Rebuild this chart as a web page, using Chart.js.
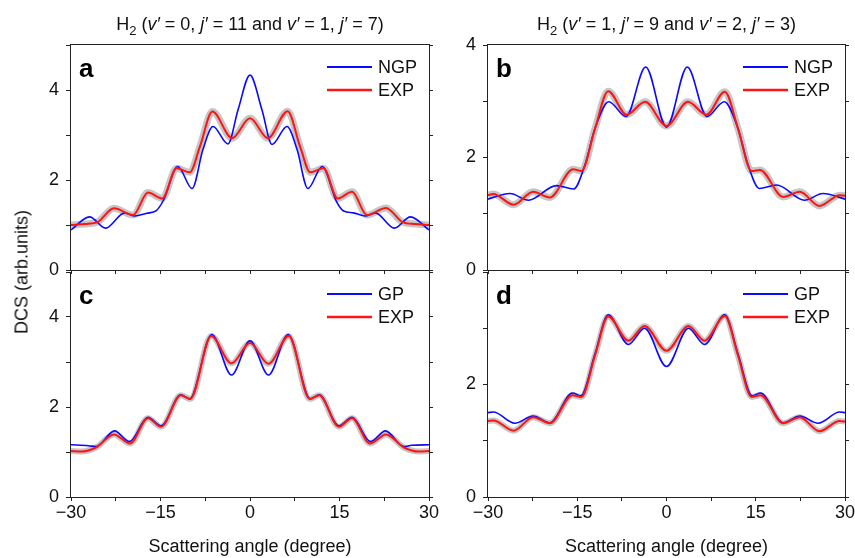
<!DOCTYPE html>
<html>
<head>
<meta charset="utf-8">
<script src="https://cdn.jsdelivr.net/npm/chart.js@4.4.0/dist/chart.umd.min.js"></script>
<style>
  body { margin: 0; background: #fff; }
  #wrap { position: relative; width: 855px; height: 558px; background: #fff; overflow: hidden; font-family: "Liberation Sans", Arial, sans-serif; }
  #wrap canvas { position: absolute; }
  #ylab { position: absolute; left: 22px; top: 272px; transform: translate(-50%, -50%) rotate(-90deg); font-size: 18px; white-space: nowrap; color: #111; }
</style>
</head>
<body>
<div id="wrap">
  <canvas id="pa" width="440" height="282" style="left:0;top:0"></canvas>
  <canvas id="pb" width="415" height="282" style="left:440px;top:0"></canvas>
  <canvas id="pc" width="440" height="286" style="left:0;top:272px"></canvas>
  <canvas id="pd" width="415" height="286" style="left:440px;top:272px"></canvas>
  <div id="ylab">DCS (arb.units)</div>
</div>
<script>
const FONT = '"Liberation Sans", Arial, sans-serif';
const BLUE = '#0a0aff';
const RED = '#ff1414';
const BAND = '#c6c6c6';

// x axis: scattering angle (degree)
const xTickStep = 7.5;
const xLabelled = [-30, -15, 0, 15, 30];

// panel a (v'=0, j'=11 and v'=1, j'=7), NGP theory vs experiment
const angA_ngp = [-30, -26.9, -24.2, -21.0, -19.3, -17.3, -15.7, -14.5, -12.1, -9.7, -7.9, -6.2, -3.7, -2.0, 0, 2.0, 3.7, 6.2, 7.9, 9.7, 12.1, 14.5, 15.7, 17.3, 19.3, 21.0, 24.2, 26.9, 30];
const dcsA_ngp = [0.89, 1.18, 0.93, 1.27, 1.20, 1.26, 1.32, 1.55, 2.30, 1.81, 2.67, 3.19, 2.80, 3.56, 4.33, 3.56, 2.79, 3.19, 2.67, 1.81, 2.30, 1.52, 1.31, 1.27, 1.20, 1.27, 0.93, 1.18, 0.89];
const angA_exp = [-30, -27.7, -25.5, -22.8, -19.6, -17.1, -14.7, -12.3, -10.1, -8.4, -6.3, -3.0, 0, 3.0, 6.3, 8.4, 10.1, 12.3, 14.7, 17.1, 19.6, 22.8, 25.5, 27.7, 30];
const dcsA_exp = [1.00, 1.02, 1.07, 1.37, 1.22, 1.72, 1.59, 2.26, 2.17, 2.74, 3.52, 2.93, 3.37, 2.93, 3.53, 2.74, 2.17, 2.26, 1.59, 1.74, 1.22, 1.38, 1.07, 1.02, 1.00];

// panel b (v'=1, j'=9 and v'=2, j'=3), NGP
const angB_ngp = [-30, -26.3, -23.2, -18.5, -15.6, -13.7, -12.0, -9.7, -6.8, -3.5, 0, 3.5, 6.8, 9.7, 12.0, 13.7, 15.6, 18.5, 23.2, 26.3, 30];
const dcsB_ngp = [1.26, 1.36, 1.24, 1.50, 1.44, 1.87, 2.52, 2.99, 2.73, 3.61, 2.54, 3.61, 2.73, 2.99, 2.52, 1.87, 1.45, 1.51, 1.24, 1.36, 1.26];
const angB_exp = [-30, -29.1, -25.7, -22.4, -19.6, -15.7, -14.3, -12.0, -9.8, -6.7, -3.6, 0, 3.6, 6.7, 9.8, 12.0, 14.3, 15.7, 19.6, 22.4, 25.7, 29.1, 30];
const dcsB_exp = [1.33, 1.35, 1.16, 1.39, 1.29, 1.79, 1.76, 2.52, 3.18, 2.76, 2.99, 2.56, 2.99, 2.76, 3.17, 2.52, 1.76, 1.78, 1.30, 1.39, 1.14, 1.33, 1.32];

// panel c, GP
const angC_gp = [-30, -27.1, -25.8, -22.7, -20.2, -17.1, -14.9, -11.6, -10.1, -6.4, -3.1, 0, 3.1, 6.4, 10.1, 11.6, 14.9, 17.1, 20.2, 22.7, 25.8, 27.1, 30];
const dcsC_gp = [1.16, 1.14, 1.12, 1.47, 1.23, 1.77, 1.58, 2.27, 2.18, 3.61, 2.71, 3.47, 2.71, 3.61, 2.18, 2.27, 1.58, 1.77, 1.23, 1.47, 1.12, 1.15, 1.16];
const angC_exp = [-30, -28.3, -25.8, -22.8, -20.1, -17.1, -14.9, -11.6, -10.0, -6.5, -3.1, 0, 3.1, 6.5, 10.0, 11.6, 14.9, 17.1, 20.1, 22.8, 25.8, 28.3, 30];
const dcsC_exp = [1.02, 1.01, 1.10, 1.39, 1.19, 1.75, 1.56, 2.26, 2.18, 3.58, 2.97, 3.42, 2.96, 3.58, 2.18, 2.26, 1.56, 1.75, 1.19, 1.39, 1.10, 1.01, 1.02];

// panel d, GP
const angD_gp = [-30, -29.1, -25.5, -22.4, -19.6, -15.8, -14.4, -12.0, -9.8, -6.4, -3.7, 0, 3.7, 6.4, 9.8, 12.0, 14.4, 15.8, 19.6, 22.4, 25.5, 29.1, 30];
const dcsD_gp = [1.50, 1.51, 1.31, 1.44, 1.32, 1.85, 1.80, 2.55, 3.24, 2.71, 3.00, 2.32, 3.00, 2.71, 3.24, 2.55, 1.80, 1.85, 1.32, 1.44, 1.31, 1.51, 1.50];
const angD_exp = [-30, -29.1, -25.7, -22.4, -19.6, -15.8, -14.3, -12.0, -9.8, -6.4, -3.7, 0, 3.7, 6.4, 9.8, 12.0, 14.3, 15.8, 19.6, 22.4, 25.7, 29.1, 30];
const dcsD_exp = [1.35, 1.36, 1.18, 1.42, 1.31, 1.81, 1.78, 2.52, 3.21, 2.78, 3.04, 2.60, 3.04, 2.78, 3.22, 2.52, 1.78, 1.81, 1.31, 1.42, 1.17, 1.35, 1.34];

const titleLeft = [['H', 'n'], ['2', 'sub'], [' (', 'n'], ['v\u2032', 'i'], [' = 0, ', 'n'], ['j\u2032', 'i'], [' = 11 and ', 'n'], ['v\u2032', 'i'], [' = 1, ', 'n'], ['j\u2032', 'i'], [' = 7)', 'n']];
const titleRight = [['H', 'n'], ['2', 'sub'], [' (', 'n'], ['v\u2032', 'i'], [' = 1, ', 'n'], ['j\u2032', 'i'], [' = 9 and ', 'n'], ['v\u2032', 'i'], [' = 2, ', 'n'], ['j\u2032', 'i'], [' = 3)', 'n']];

function pts(xs, ys) {
    return xs.map((x, i) => ({ x: x, y: ys[i] }));
}

function fmtAngle(v) {
    return v < 0 ? '\u2212' + Math.abs(v) : String(v);
}

const segFont = { n: '18px ' + FONT, i: 'italic 18px ' + FONT, sub: '13px ' + FONT };

// frame, panel letter, legend and title
const panelDeco = {
    id: 'panelDeco',
    afterDraw(chart, args, o) {
        const { ctx, chartArea: a } = chart;
        ctx.save();
        ctx.strokeStyle = '#222';
        ctx.lineWidth = 1;
        ctx.strokeRect(a.left - 0.5, a.top - 0.5, a.right - a.left + 1, a.bottom - a.top + 1);

        ctx.fillStyle = '#000';
        ctx.font = 'bold 26px ' + FONT;
        ctx.textAlign = 'left';
        ctx.textBaseline = 'alphabetic';
        ctx.fillText(o.letter, a.left + 8, a.top + 32);

        const lx = a.right - 102;
        o.items.forEach((it, i) => {
            const y = a.top + 22 + i * 23;
            ctx.strokeStyle = it.color;
            ctx.lineWidth = it.width;
            ctx.beginPath();
            ctx.moveTo(lx, y);
            ctx.lineTo(lx + 45, y);
            ctx.stroke();
            ctx.fillStyle = '#111';
            ctx.font = '18px ' + FONT;
            ctx.textBaseline = 'middle';
            ctx.fillText(it.text, lx + 51, y + 1);
        });

        if (o.title) {
            let total = 0;
            o.title.forEach(s => { ctx.font = segFont[s[1]]; total += ctx.measureText(s[0]).width; });
            let x = (a.left + a.right) / 2 - total / 2;
            ctx.fillStyle = '#111';
            ctx.textBaseline = 'alphabetic';
            o.title.forEach(s => {
                ctx.font = segFont[s[1]];
                ctx.fillText(s[0], x, s[1] === 'sub' ? 35 : 30);
                x += ctx.measureText(s[0]).width;
            });
        }
        ctx.restore();
    }
};

function makePanel(id, p) {
    const tickFont = { size: 18, family: FONT };
    new Chart(document.getElementById(id), {
        type: 'line',
        data: {
            datasets: [
                { label: 'EXP', data: pts(p.expX, p.expY), borderColor: RED, borderWidth: 2, clip: 0 },
                { label: p.theory, data: pts(p.thX, p.thY), borderColor: BLUE, borderWidth: 1.6, clip: 0 },
                { label: 'band', data: pts(p.expX, p.expY), borderColor: BAND, borderWidth: p.band, clip: 0 }
            ]
        },
        options: {
            responsive: false,
            animation: false,
            elements: {
                line: { cubicInterpolationMode: 'monotone', fill: false },
                point: { radius: 0 }
            },
            layout: { padding: { left: 0, top: p.top, right: p.right, bottom: 0 } },
            plugins: {
                legend: { display: false },
                tooltip: { enabled: false },
                panelDeco: {
                    letter: p.letter,
                    title: p.title,
                    items: [
                        { text: p.theory, color: BLUE, width: 2 },
                        { text: 'EXP', color: RED, width: 2.5 }
                    ]
                }
            },
            scales: {
                x: {
                    type: 'linear',
                    min: -30,
                    max: 30,
                    ticks: {
                        display: p.xLabels,
                        stepSize: xTickStep,
                        autoSkip: false,
                        maxRotation: 0,
                        padding: 1,
                        color: '#111',
                        font: tickFont,
                        callback: v => xLabelled.includes(v) ? fmtAngle(v) : ''
                    },
                    grid: { drawOnChartArea: false, tickLength: 4, color: '#222' },
                    border: { display: false },
                    title: {
                        display: p.xLabels,
                        text: 'Scattering angle (degree)',
                        color: '#111',
                        font: tickFont,
                        padding: 0
                    },
                    afterFit(s) { s.height = p.xh; s.paddingLeft = 0; s.paddingRight = 0; }
                },
                y: {
                    min: 0,
                    max: p.ymax,
                    ticks: {
                        stepSize: 1,
                        padding: 7,
                        color: '#111',
                        font: tickFont,
                        // the top label is left off where it would sit on the panel above
                        callback: v => (v % 2 === 0 && (p.topLabel || v < p.ymax)) ? String(v) : ''
                    },
                    grid: { drawOnChartArea: false, tickLength: 5, color: '#222' },
                    border: { display: false },
                    afterFit(s) { s.width = p.yw; s.paddingTop = 0; s.paddingBottom = 0; }
                },
                y2: {
                    position: 'right',
                    min: 0,
                    max: p.ymax,
                    ticks: { display: false, stepSize: 1 },
                    grid: { drawOnChartArea: false, tickLength: 4, color: '#222' },
                    border: { display: false },
                    afterFit(s) { s.width = 0; s.paddingTop = 0; s.paddingBottom = 0; }
                }
            }
        },
        plugins: [panelDeco]
    });
}

makePanel('pa', { letter: 'a', theory: 'NGP', title: titleLeft, thX: angA_ngp, thY: dcsA_ngp, expX: angA_exp, expY: dcsA_exp,
    band: 7, ymax: 5, top: 45, right: 11, yw: 71, xh: 12, xLabels: false, topLabel: true });
makePanel('pb', { letter: 'b', theory: 'NGP', title: titleRight, thX: angB_ngp, thY: dcsB_ngp, expX: angB_exp, expY: dcsB_exp,
    band: 7, ymax: 4, top: 45, right: 10, yw: 48, xh: 12, xLabels: false, topLabel: true });
makePanel('pc', { letter: 'c', theory: 'GP', title: null, thX: angC_gp, thY: dcsC_gp, expX: angC_exp, expY: dcsC_exp,
    band: 6, ymax: 5, top: 0, right: 11, yw: 71, xh: 61, xLabels: true, topLabel: false });
makePanel('pd', { letter: 'd', theory: 'GP', title: null, thX: angD_gp, thY: dcsD_gp, expX: angD_exp, expY: dcsD_exp,
    band: 6, ymax: 4, top: 0, right: 10, yw: 48, xh: 61, xLabels: true, topLabel: false });
</script>
</body>
</html>
